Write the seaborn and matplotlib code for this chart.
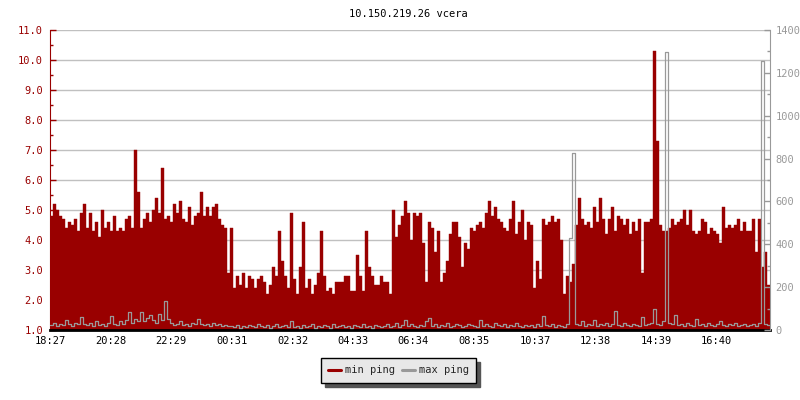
import numpy as np
import pandas as pd
import matplotlib
matplotlib.use("Agg")
import matplotlib.pyplot as plt
import seaborn as sns
from matplotlib.lines import Line2D
from matplotlib.ticker import MultipleLocator, FormatStrFormatter

TITLE = "10.150.219.26 vcera"
START = "18:27"
STEP_MIN = 6          # one sample every 6 minutes, 24 h window
TICK_LABELS = ["18:27", "20:28", "22:29", "00:31", "02:32", "04:33",
               "06:34", "08:35", "10:37", "12:38", "14:39", "16:40"]

# min ping (left axis)
MIN_PING = [
    4.8, 5.2, 5.0, 4.8, 4.7, 4.4, 4.6, 4.5, 4.7, 4.3, 4.9, 5.2, 4.4, 4.9, 4.3, 4.6, 4.1, 5.0, 4.4, 4.6,
    4.3, 4.8, 4.3, 4.4, 4.3, 4.7, 4.8, 4.4, 7.0, 5.6, 4.4, 4.7, 4.9, 4.6, 5.0, 5.4, 4.9, 6.4, 4.7, 4.8,
    4.6, 5.2, 4.9, 5.3, 4.7, 4.6, 5.1, 4.5, 4.8, 4.9, 5.6, 4.8, 5.1, 4.8, 5.1, 5.2, 4.7, 4.5, 4.4, 2.9,
    4.4, 2.4, 2.8, 2.5, 2.9, 2.4, 2.8, 2.7, 2.4, 2.7, 2.8, 2.6, 2.2, 2.5, 3.1, 2.8, 4.3, 3.3, 2.8, 2.4,
    4.9, 2.7, 2.2, 3.1, 4.6, 2.4, 2.7, 2.2, 2.5, 2.9, 4.3, 2.8, 2.3, 2.4, 2.2, 2.6, 2.6, 2.6, 2.8, 2.8,
    2.3, 2.3, 3.5, 2.8, 2.3, 4.3, 3.1, 2.8, 2.5, 2.5, 2.8, 2.6, 2.6, 2.2, 5.0, 4.1, 4.5, 4.8, 5.3, 4.9,
    4.0, 4.9, 4.8, 4.9, 3.9, 2.6, 4.6, 4.4, 3.6, 4.3, 2.6, 2.9, 3.3, 4.2, 4.6, 4.6, 4.1, 3.1, 3.9, 3.7,
    4.4, 4.3, 4.5, 4.6, 4.4, 4.9, 5.3, 4.8, 5.1, 4.7, 4.6, 4.4, 4.3, 4.7, 5.3, 4.2, 4.6, 5.0, 4.0, 4.6,
    4.5, 2.4, 3.3, 2.7, 4.7, 4.5, 4.6, 4.8, 4.6, 4.7, 4.0, 2.2, 2.8, 2.6, 3.2, 4.5, 5.4, 4.7, 4.5, 4.6,
    4.4, 5.1, 4.6, 5.4, 4.7, 4.2, 4.7, 5.1, 4.3, 4.8, 4.7, 4.5, 4.7, 4.2, 4.6, 4.3, 4.7, 2.9, 4.6, 4.6,
    4.7, 10.3, 7.3, 4.5, 4.3, 4.3, 4.4, 4.7, 4.5, 4.6, 4.7, 5.0, 4.5, 5.0, 4.3, 4.2, 4.3, 4.7, 4.6, 4.2,
    4.4, 4.3, 4.2, 3.9, 5.1, 4.4, 4.5, 4.4, 4.5, 4.7, 4.3, 4.6, 4.3, 4.3, 4.7, 3.6, 4.7, 3.1, 3.6, 2.5,
]

# max ping (right axis)
MAX_PING = [
    25, 35, 20, 30, 25, 45, 30, 20, 35, 30, 60, 30, 25, 35, 20, 40, 25, 30, 20, 35,
    65, 30, 25, 40, 30, 45, 85, 35, 50, 40, 85, 40, 55, 70, 45, 35, 75, 45, 135, 50,
    35, 25, 30, 40, 25, 30, 20, 35, 30, 50, 30, 25, 30, 20, 35, 25, 30, 20, 25, 20,
    20, 15, 25, 10, 20, 15, 25, 20, 15, 30, 20, 15, 25, 10, 20, 30, 15, 20, 25, 15,
    40, 15, 20, 10, 25, 15, 20, 30, 10, 20, 15, 25, 20, 10, 30, 15, 20, 25, 15, 20,
    10, 25, 20, 15, 30, 15, 20, 10, 25, 20, 15, 20, 30, 15, 20, 35, 15, 25, 45, 20,
    30, 20, 15, 25, 20, 40, 55, 20, 30, 15, 25, 20, 35, 15, 20, 30, 25, 15, 20, 30,
    25, 20, 15, 45, 20, 30, 20, 15, 35, 25, 20, 30, 15, 25, 20, 35, 20, 15, 25, 20,
    25, 15, 30, 20, 65, 25, 20, 30, 15, 25, 20, 15, 30, 430, 826, 30, 25, 40, 20, 30,
    25, 45, 20, 30, 25, 35, 20, 30, 90, 25, 20, 35, 25, 20, 30, 25, 20, 60, 25, 30,
    35, 100, 30, 25, 40, 1297, 35, 30, 70, 25, 30, 20, 35, 25, 20, 50, 25, 30, 20, 35,
    25, 20, 30, 40, 25, 20, 30, 25, 35, 20, 25, 30, 20, 25, 30, 20, 35, 1255, 30, 25,
]

RED = "#990000"
GRAY = "#999999"


def minutes_from_start(label):
    h, m = map(int, label.split(":"))
    h0, m0 = map(int, START.split(":"))
    return ((h * 60 + m) - (h0 * 60 + m0)) % 1440


sns.set_style("white")
plt.rcParams["font.family"] = ["DejaVu Sans Mono"]
plt.rcParams["font.size"] = 7.5

n = len(MIN_PING)
t = np.arange(n + 1) * STEP_MIN   # extra edge so the last step is drawn
df = pd.DataFrame({
    "t": t,
    "min ping": MIN_PING + MIN_PING[-1:],
    "max ping": MAX_PING + MAX_PING[-1:],
})

fig = plt.figure(figsize=(8, 4), dpi=100)
ax = fig.add_axes([0.0625, 0.175, 0.9, 0.75])
ax2 = ax.twinx()

ax.fill_between(df["t"], 0, df["min ping"], step="post", color=RED, lw=0)
sns.lineplot(data=df, x="t", y="min ping", drawstyle="steps-post",
             color=RED, lw=0.3, ax=ax, legend=False)
sns.lineplot(data=df, x="t", y="max ping", drawstyle="steps-post",
             color=GRAY, lw=0.9, ax=ax2, legend=False)

# axes limits / ticks
ax.set_xlim(0, n * STEP_MIN)
ax.set_ylim(1, 11)
ax2.set_ylim(0, 1400)
ax.set_xticks([minutes_from_start(l) for l in TICK_LABELS], TICK_LABELS)
ax.yaxis.set_major_locator(MultipleLocator(1))
ax.yaxis.set_minor_locator(MultipleLocator(0.5))
ax.yaxis.set_major_formatter(FormatStrFormatter("%.1f"))
ax2.yaxis.set_major_locator(MultipleLocator(200))
ax2.yaxis.set_minor_locator(MultipleLocator(100))

ax.set_axisbelow(True)
ax.yaxis.grid(True, color="#c0c0c0", lw=1)
ax.xaxis.grid(False)

ax.tick_params(axis="y", which="major", direction="in", length=4, width=1,
               colors=RED, pad=5)
ax.tick_params(axis="y", which="minor", direction="in", length=2.5, width=1, colors=RED)
ax.tick_params(axis="x", direction="in", length=3, width=1.5, colors="black",
               pad=4)
ax2.tick_params(axis="y", which="major", direction="in", length=4, width=1,
                colors=GRAY, pad=4)
ax2.tick_params(axis="y", which="minor", direction="in", length=2.5, width=1, colors=GRAY)

ax.set_xlabel("")
ax.set_ylabel("")
ax2.set_ylabel("")

ax.spines["top"].set_visible(False)
ax.spines["right"].set_visible(False)
ax.spines["left"].set_color(RED)
ax.spines["bottom"].set_color("black")
ax.spines["bottom"].set_linewidth(2)
for s in ["top", "left", "bottom"]:
    ax2.spines[s].set_visible(False)
ax2.spines["right"].set_color(GRAY)

fig.text(0.511, 0.965, TITLE, ha="center", va="center", color="black")

handles = [Line2D([], [], color=RED, lw=2.2), Line2D([], [], color=GRAY, lw=2.2)]
leg = fig.legend(handles, ["min ping", "max ping"], loc="center",
                 bbox_to_anchor=(0.498, 0.074), ncol=2, frameon=True,
                 fancybox=False, framealpha=1, facecolor="#e8e8e8",
                 edgecolor="black", handlelength=1.2, handletextpad=0.4,
                 columnspacing=0.7, borderpad=0.7, fontsize=7.5,
                 shadow={"color": "#555555", "alpha": 1, "ox": 3, "oy": -3})
leg.get_frame().set_linewidth(1)

fig.savefig("out.png", dpi=100)
